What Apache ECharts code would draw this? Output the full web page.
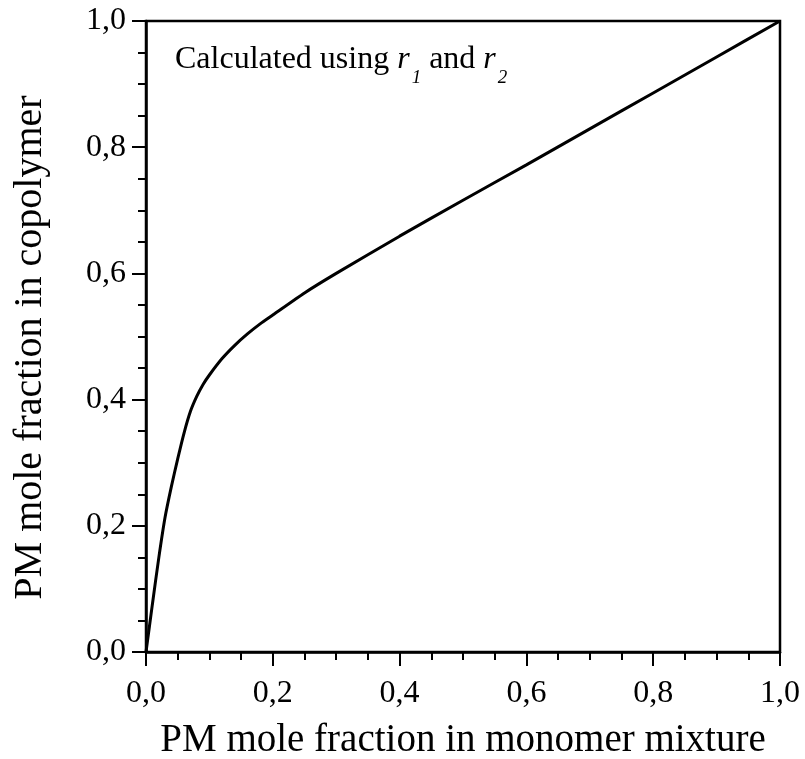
<!DOCTYPE html>
<html>
<head>
<meta charset="UTF-8">
<title>PM copolymer composition</title>
<script src="https://cdn.jsdelivr.net/npm/echarts@6/dist/echarts.min.js"></script>
<style>
body { margin: 0; padding: 0; background: #fff; }
#main { width: 805px; height: 759px; }
</style>
</head>
<body>
<div id="main"></div>
<script>
// PM mole fraction in the monomer mixture (x) and in the copolymer (y)
var monomerFrac = [0, 0.01, 0.02, 0.03, 0.04, 0.05, 0.06, 0.07, 0.08, 0.09, 0.10, 0.12, 0.14, 0.16, 0.18, 0.20, 0.25, 0.30, 0.40, 0.50, 0.60, 0.70, 0.80, 0.90, 1.0];
var copolymerFrac = [0, 0.075, 0.148, 0.213, 0.262, 0.306, 0.347, 0.381, 0.405, 0.424, 0.439, 0.465, 0.486, 0.504, 0.520, 0.534, 0.569, 0.600, 0.659, 0.716, 0.772, 0.829, 0.886, 0.943, 1.0];
var tickInterval = 0.2;

var points = monomerFrac.map(function (x, i) { return [x, copolymerFrac[i]]; });

var serif = '"Liberation Serif", "DejaVu Serif", serif';

function commaLabel(v) {
	return v.toFixed(1).replace('.', ',');
}

var chart = echarts.init(document.getElementById('main'));

var axisCommon = {
	type: 'value',
	min: 0,
	max: 1,
	interval: tickInterval,
	nameLocation: 'middle',
	axisLine: { show: true, lineStyle: { color: '#000', width: 2.5 } },
	axisTick: { show: true, length: 14, lineStyle: { color: '#000', width: 2 } },
	minorTick: { show: true, splitNumber: 4, length: 8, lineStyle: { color: '#000', width: 2 } },
	splitLine: { show: false },
	axisLabel: { color: '#000', fontFamily: serif, fontSize: 32, formatter: commaLabel }
};

var option = {
	backgroundColor: '#fff',
	animation: false,
	grid: {
		left: 146,
		right: 25,
		top: 21,
		bottom: 107,
		outerBoundsMode: 'none',
		containLabel: false,
		show: true,
		borderColor: '#000',
		borderWidth: 2.5
	},
	xAxis: echarts.util.merge({
		name: 'PM mole fraction in monomer mixture',
		nameGap: 69,
		nameTextStyle: { color: '#000', fontFamily: serif, fontSize: 39 },
		axisLabel: { margin: 26 }
	}, axisCommon),
	yAxis: echarts.util.merge({
		name: 'PM mole fraction in copolymer',
		nameGap: 96,
		nameTextStyle: { color: '#000', fontFamily: serif, fontSize: 40, padding: [0, 22, 0, 0] },
		axisLabel: { margin: 20 }
	}, axisCommon),
	graphic: [{
		type: 'text',
		left: 175,
		top: 44,
		style: {
			text: 'Calculated using {i|r}{s|1} and {i|r}{s|2}',
			fill: '#000',
			font: '32px ' + serif,
			rich: {
				i: { fontFamily: serif, fontSize: 32, fontStyle: 'italic', fill: '#000' },
				s: { fontFamily: serif, fontSize: 19, fontStyle: 'italic', fill: '#000', padding: [36, 0, 0, 2] }
			}
		}
	}],
	series: [{
		type: 'line',
		data: points,
		smooth: 0.25,
		showSymbol: false,
		lineStyle: { color: '#000', width: 3 }
	}]
};
chart.setOption(option);
</script>
</body>
</html>
